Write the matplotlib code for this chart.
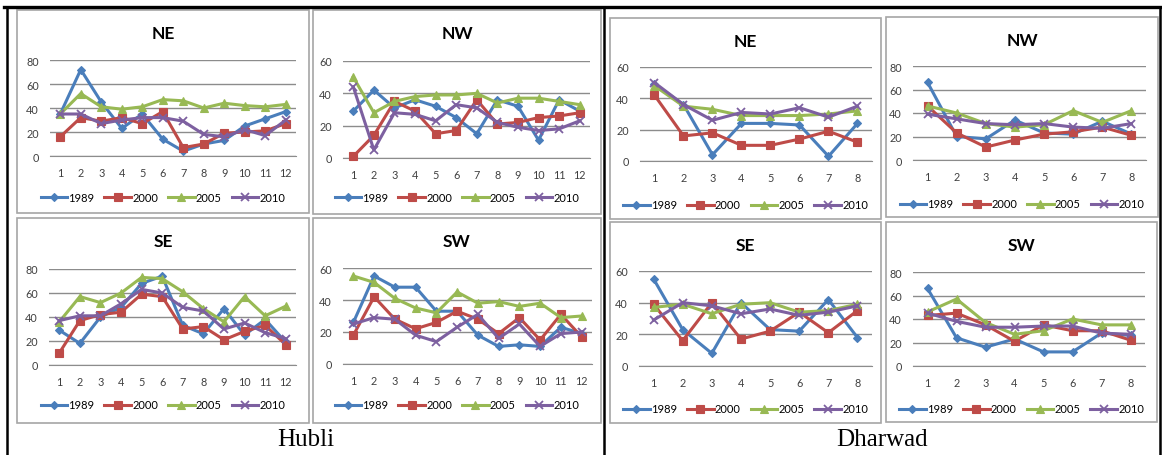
import matplotlib
matplotlib.use("Agg")
import matplotlib.pyplot as plt
from matplotlib.patches import Rectangle
from matplotlib.lines import Line2D

W, H = 1162, 456

years = ["1989", "2000", "2005", "2010"]
hubli_x = [1, 2, 3, 4, 5, 6, 7, 8, 9, 10, 11, 12]
dharwad_x = [1, 2, 3, 4, 5, 6, 7, 8]
city_labels = ["Hubli", "Dharwad"]

# Hubli NE
hub_ne_1989 = [35, 72, 45, 23, 35, 14, 4, 10, 13, 25, 31, 37]
hub_ne_2000 = [16, 32, 29, 32, 27, 37, 7, 10, 19, 20, 21, 27]
hub_ne_2005 = [35, 52, 41, 39, 41, 47, 46, 40, 44, 42, 41, 43]
hub_ne_2010 = [35, 35, 27, 30, 32, 32, 29, 18, 16, 22, 17, 30]
# Hubli NW
hub_nw_1989 = [29, 42, 31, 36, 32, 25, 15, 36, 32, 11, 36, 29]
hub_nw_2000 = [1, 14, 35, 29, 15, 17, 36, 21, 22, 25, 26, 28]
hub_nw_2005 = [50, 28, 35, 38, 39, 39, 40, 34, 37, 37, 35, 33]
hub_nw_2010 = [44, 5, 28, 27, 23, 33, 31, 22, 19, 17, 18, 23]
# Hubli SE
hub_se_1989 = [29, 18, 40, 48, 68, 74, 33, 26, 47, 25, 38, 19]
hub_se_2000 = [10, 37, 42, 44, 59, 57, 30, 32, 21, 28, 33, 17]
hub_se_2005 = [36, 57, 52, 60, 73, 72, 61, 47, 36, 57, 41, 49]
hub_se_2010 = [37, 41, 41, 51, 63, 60, 48, 45, 30, 35, 27, 22]
# Hubli SW
hub_sw_1989 = [26, 55, 48, 48, 33, 33, 18, 11, 12, 11, 23, 19]
hub_sw_2000 = [18, 42, 28, 22, 26, 33, 28, 19, 29, 15, 31, 17]
hub_sw_2005 = [55, 51, 41, 35, 32, 45, 38, 39, 36, 38, 29, 30]
hub_sw_2010 = [25, 29, 28, 18, 14, 23, 31, 16, 25, 11, 19, 20]
# Dharwad NE
dha_ne_1989 = [49, 36, 4, 24, 24, 23, 3, 24]
dha_ne_2000 = [42, 16, 18, 10, 10, 14, 19, 12]
dha_ne_2005 = [48, 35, 33, 29, 29, 29, 30, 32]
dha_ne_2010 = [50, 36, 26, 31, 30, 34, 28, 35]
# Dharwad NW
dha_nw_1989 = [66, 20, 18, 34, 23, 22, 33, 22]
dha_nw_2000 = [46, 23, 11, 17, 22, 24, 28, 21]
dha_nw_2005 = [46, 40, 31, 28, 30, 42, 32, 42]
dha_nw_2010 = [39, 35, 31, 30, 31, 28, 27, 31]
# Dharwad SE
dha_se_1989 = [55, 23, 8, 40, 23, 22, 42, 18]
dha_se_2000 = [39, 16, 40, 17, 22, 34, 21, 35]
dha_se_2005 = [37, 39, 33, 39, 40, 34, 35, 39]
dha_se_2010 = [29, 40, 38, 33, 36, 32, 34, 38]
# Dharwad SW
dha_sw_1989 = [66, 24, 16, 23, 12, 12, 28, 26]
dha_sw_2000 = [43, 45, 35, 21, 35, 30, 30, 22]
dha_sw_2005 = [46, 57, 37, 27, 30, 40, 35, 35]
dha_sw_2010 = [45, 38, 33, 33, 34, 34, 28, 27]

colors = ["#4A7EBB", "#BE4B48", "#98B954", "#7D60A0"]
markers = ["D", "s", "^", "x"]
msizes = [4.5, 6, 6, 6]

FONT = ["Lato", "DejaVu Sans"]

fig = plt.figure(figsize=(W / 100, H / 100), dpi=100)


def fx(x):
    return x / W


def fy(y):
    return 1 - y / H


def panel(box, axbox, title, xs, series, ymax):
    x0, y0, x1, y1 = box
    fig.patches.append(Rectangle((fx(x0), fy(y1)), fx(x1 - x0), (y1 - y0) / H,
                                 transform=fig.transFigure, fill=False,
                                 edgecolor="#a6a6a6", lw=1.2, zorder=0))
    ax0, ay0, ax1, ay1 = axbox
    ax = fig.add_axes([fx(ax0), fy(ay1), fx(ax1 - ax0), (ay1 - ay0) / H])
    for i, ys in enumerate(series):
        ax.plot(xs, ys, color=colors[i], lw=2.2, marker=markers[i],
                ms=msizes[i], mew=1.3 if markers[i] == "x" else 0.8,
                mec=colors[i], label=years[i], zorder=3 + i, clip_on=False)
    ax.set_xlim(0.5, len(xs) + 0.5)
    ax.set_ylim(0, ymax)
    ax.set_yticks(range(0, ymax + 1, 20))
    ax.set_xticks(xs)
    ax.grid(axis="y", color="#8c8c8c", lw=1.0)
    ax.set_axisbelow(True)
    for s in ["top", "right", "left"]:
        ax.spines[s].set_visible(False)
    ax.spines["bottom"].set_color("#8c8c8c")
    ax.tick_params(length=0, labelsize=7.8, labelcolor="#404040", pad=8)
    for lab in ax.get_xticklabels() + ax.get_yticklabels():
        lab.set_family(FONT)
    ax.patch.set_alpha(0)
    fig.text(fx((x0 + x1) / 2), fy(y0 + 23), title, ha="center", va="center",
             fontsize=12.5, fontweight="bold", family=FONT)
    handles = [Line2D([], [], color=colors[i], lw=2.2, marker=markers[i],
                      ms=msizes[i], mew=1.3 if markers[i] == "x" else 0.8)
               for i in range(4)]
    fig.legend(handles, years, loc="center",
               bbox_to_anchor=(fx((x0 + x1) / 2), fy(y0 + 187)),
               ncol=4, frameon=False, handlelength=2.4, handletextpad=0.1,
               columnspacing=0.9, prop={"family": FONT, "size": 8})
    return ax


panel((17, 11, 309, 214), (50, 61, 296, 157), "NE", hubli_x,
      [hub_ne_1989, hub_ne_2000, hub_ne_2005, hub_ne_2010], 80)
panel((313, 11, 601, 215), (343, 62, 590, 159), "NW", hubli_x,
      [hub_nw_1989, hub_nw_2000, hub_nw_2005, hub_nw_2010], 60)
panel((17, 219, 309, 424), (49, 270, 296, 366), "SE", hubli_x,
      [hub_se_1989, hub_se_2000, hub_se_2005, hub_se_2010], 80)
panel((313, 219, 601, 424), (343, 269, 592, 365), "SW", hubli_x,
      [hub_sw_1989, hub_sw_2000, hub_sw_2005, hub_sw_2010], 60)
panel((610, 19, 881, 220), (640, 68, 872, 162), "NE", dharwad_x,
      [dha_ne_1989, dha_ne_2000, dha_ne_2005, dha_ne_2010], 60)
panel((886, 18, 1158, 218), (913, 67, 1146, 161), "NW", dharwad_x,
      [dha_nw_1989, dha_nw_2000, dha_nw_2005, dha_nw_2010], 80)
panel((610, 223, 881, 424), (639, 272, 872, 367), "SE", dharwad_x,
      [dha_se_1989, dha_se_2000, dha_se_2005, dha_se_2010], 60)
panel((886, 223, 1157, 423), (913, 273, 1145, 367), "SW", dharwad_x,
      [dha_sw_1989, dha_sw_2000, dha_sw_2005, dha_sw_2010], 80)

# table frame
fig.add_artist(Line2D([fx(4), fx(1162)], [fy(8), fy(8)], color="black", lw=2.4))
fig.add_artist(Line2D([fx(7), fx(7)], [fy(8), fy(456)], color="black", lw=1.8))
fig.add_artist(Line2D([fx(604), fx(604)], [fy(8), fy(456)], color="black", lw=1.8))
fig.add_artist(Line2D([fx(1160), fx(1160)], [fy(8), fy(456)], color="black", lw=1.8))

fig.text(fx(306), fy(440), city_labels[0], ha="center", va="center",
         fontsize=18, family="Liberation Serif")
fig.text(fx(882), fy(440), city_labels[1], ha="center", va="center",
         fontsize=18, family="Liberation Serif")

fig.savefig("out.png", dpi=100)
